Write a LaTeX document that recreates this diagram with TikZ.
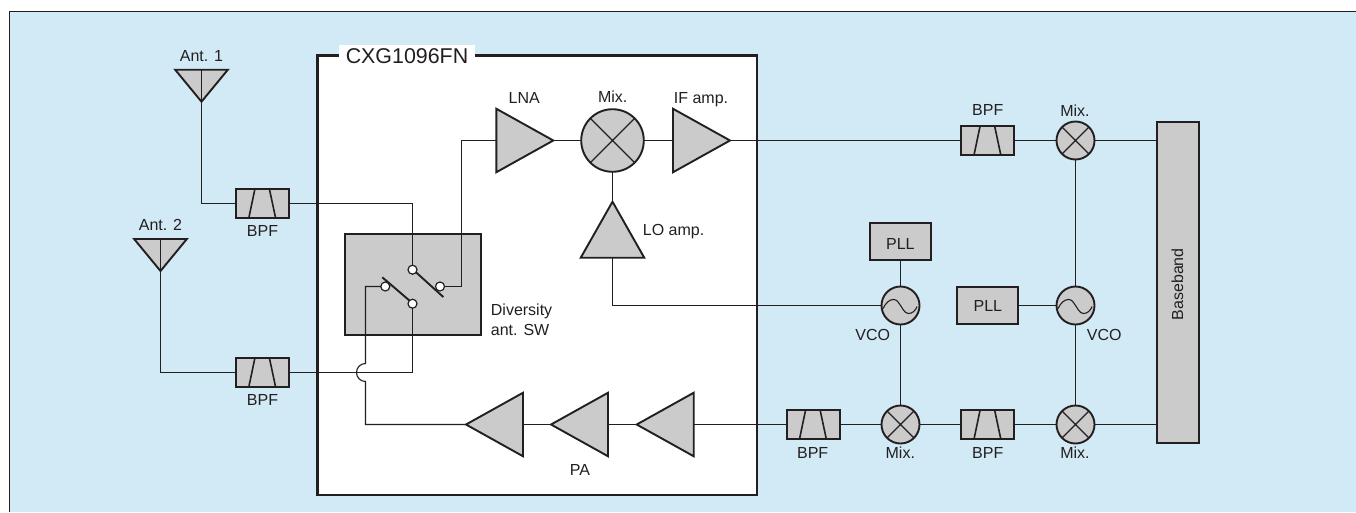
\documentclass[tikz,border=0pt]{standalone}
\usepackage{fontspec}
\setmainfont{Liberation Sans}
\usetikzlibrary{shapes.geometric}
\definecolor{ink}{HTML}{231F20}
\definecolor{bgblue}{HTML}{D2EAF6}
\definecolor{partgray}{HTML}{CBCBCB}
\tikzset{
  wire/.style={draw=ink,line width=1.1pt},
  lab/.style={anchor=base,inner sep=0pt,text=ink,font=\fontsize{16}{20}\selectfont},
  labl/.style={lab,anchor=base west},
  part/.style={draw=ink,fill=partgray,line width=1.9pt,inner sep=0pt,outer sep=0pt},
  amp/.style={part,isosceles triangle,isosceles triangle stretches,minimum width=63.5pt,minimum height=57pt,anchor=apex},
  ant/.style={part,isosceles triangle,isosceles triangle stretches,minimum width=52.7pt,minimum height=32pt,anchor=apex,shape border rotate=270},
  bpf/.style={part,rectangle,minimum width=53pt,minimum height=29.5pt,
    path picture={\draw[line width=1.6pt,draw=ink,shift={(path picture bounding box.center)}]
      (-7.5,-15)--(-13.8,15) (6.8,-15)--(13.2,15);}},
  mixer/.style={part,circle,minimum size=#1,
    path picture={\draw[line width=1.1pt,draw=ink]
      (path picture bounding box.north west)--(path picture bounding box.south east)
      (path picture bounding box.north east)--(path picture bounding box.south west);}},
  vco/.style={part,circle,minimum size=38pt,
    path picture={\draw[line width=1.1pt,draw=ink,shift={(path picture bounding box.center)}]
      (-17.5,3) .. controls (-14.5,-3) and (-11,-6) .. (-7,-6) .. controls (-3,-6) and (-2,-2.5) .. (0,0)
      .. controls (2,2.5) and (4,8) .. (8,8) .. controls (12,8) and (15,5) .. (16.5,1);}},
  pll/.style={part,rectangle,minimum width=61pt,minimum height=36.5pt},
  pole/.style={circle,draw=ink,fill=white,line width=1.2pt,minimum size=9pt,inner sep=0pt,outer sep=0pt},
  blade/.style={draw=ink,line width=1.9pt}
}
\begin{document}
\begin{tikzpicture}[x=1pt,y=-1pt]
\useasboundingbox (0,0) rectangle (1356,512);
\fill[white] (0,0) rectangle (1356,512);
\fill[bgblue] (9.5,11.5) rectangle (1356,512);
\draw[draw=ink,line width=1.3pt] (9.5,512) -- (9.5,11.5) -- (1356,11.5);

% chip
\node[fill=white,inner sep=0pt,outer sep=0pt,minimum width=439.7pt,minimum height=439.7pt,rectangle] (chip) at (537.15,275.15) {};
\node[lab,fill=white,minimum width=136pt,text height=18.3pt,text depth=2pt,font=\fontsize{21.4}{24}\selectfont] (title) at (407,63.3) {CXG1096FN};
\draw[draw=ink,line width=2.6pt] (title.west |- chip.north) -- (chip.north west) -- (chip.south west) -- (chip.south east) -- (chip.north east) -- (title.east |- chip.north);

% parts
\node[ant] (a1) at (201.5,101.7) {};
\node[ant] (a2) at (160.5,271) {};
\node[bpf] (f1) at (262.5,203.5) {};
\node[bpf] (f2) at (262.5,372.5) {};
\node[bpf] (f3) at (987.7,140.5) {};
\node[bpf] (f4) at (813.2,424.5) {};
\node[bpf] (f5) at (987.7,424.5) {};
\node[part,rectangle,minimum width=135.7pt,minimum height=101.3pt] (swbox) at (412.85,284.65) {};
\node[amp] (lna) at (553.3,140.5) {};
\node[amp] (ifa) at (730,140.5) {};
\node[mixer=62.6pt] (m0) at (612.5,140.5) {};
\node[amp,minimum width=63.5pt,minimum height=56pt,shape border rotate=90] (lo) at (612.5,201.7) {};
\node[amp,shape border rotate=180] (pa1) at (466,424.5) {};
\node[amp,shape border rotate=180] (pa2) at (551,424.5) {};
\node[amp,shape border rotate=180] (pa3) at (636.7,424.5) {};
\node[mixer=38pt] (m1) at (1075.5,140.5) {};
\node[mixer=38pt] (m2) at (900.5,424.5) {};
\node[mixer=38pt] (m3) at (1075.5,424.5) {};
\node[vco] (v1) at (900.5,305.5) {};
\node[vco] (v2) at (1075.5,305.5) {};
\node[pll] (p1) at (900.5,241.6) {};
\node[pll] (p2) at (987.8,305.5) {};
\node[part,rectangle,minimum width=42pt,minimum height=320.7pt] (bb) at (1177.7,282.35) {};

% switch
\coordinate (b1s) at (416,272.3);
\coordinate (b1e) at (443.3,297);
\coordinate (b2s) at (382.3,277.3);
\coordinate (b2e) at (410,301);
\draw[blade] (b1s) -- (b1e);
\draw[blade] (b2s) -- (b2e);
\node[pole] (sa) at (412.5,269.7) {};
\node[pole] (sb) at (440,286.5) {};
\node[pole] (sc) at (385.3,286.5) {};
\node[pole] (sd) at (412.5,303.7) {};

% connector bend and jump coordinates
\coordinate (c1) at (461.5,140.5);
\coordinate (jt) at (365.5,363.5);
\coordinate (jb) at (365.5,381.5);
\coordinate (jl) at (356.5,372.5);
\coordinate (c2) at (365.5,424.5);

% connectors
\draw[wire] (a1.lower side) -- (a1.apex) |- (f1.west);
\draw[wire] (a2.lower side) -- (a2.apex) |- (f2.west);
\draw[wire] (f1.east) -| (sa.north);
\draw[wire] (f2.east) -| (sd.south);
\draw[wire] (sb.east) -- (sb.east -| c1) -- (c1) -- (lna.lower side);
\draw[wire] (sc.west) -- (sc.west -| jt) -- (jt)
  .. controls (360.5,363.5) and (356.5,367.5) .. (jl)
  .. controls (356.5,377.5) and (360.5,381.5) .. (jb) -- (c2) -- (pa1.apex);
\draw[wire] (lna.apex) -- (m0.west);
\draw[wire] (m0.east) -- (ifa.lower side);
\draw[wire] (ifa.apex) -- (f3.west);
\draw[wire] (f3.east) -- (m1.west);
\draw[wire] (m1.east) -- (m1.east -| bb.west);
\draw[wire] (m0.south) -- (lo.apex);
\draw[wire] (lo.lower side) |- (v1.west);
\draw[wire] (p1.south) -- (v1.north);
\draw[wire] (v1.south) -- (m2.north);
\draw[wire] (p2.east) -- (p2.east -| v2.west);
\draw[wire] (m1.south) -- (v2.north);
\draw[wire] (v2.south) -- (m3.north);
\draw[wire] (pa1.lower side) -- (pa2.apex);
\draw[wire] (pa2.lower side) -- (pa3.apex);
\draw[wire] (pa3.lower side) -- (f4.west);
\draw[wire] (f4.east) -- (m2.west);
\draw[wire] (m2.east) -- (f5.west);
\draw[wire] (f5.east) -- (m3.west);
\draw[wire] (m3.east) -- (m3.east -| bb.west);

% labels
\node[lab] (t1) at (201.5,61) {Ant. 1};
\node[lab] (t2) at (160.5,230) {Ant. 2};
\node[lab] (t3) at (262.5,236) {BPF};
\node[lab] (t4) at (262.5,405) {BPF};
\node[lab] (t5) at (524.3,103) {LNA};
\node[lab] (t6) at (612.7,102.7) {Mix.};
\node[lab] (t7) at (701,103) {IF amp.};
\node[labl] (t8) at (642.7,235.7) {LO amp.};
\node[labl] (t9) at (490.7,315) {Diversity};
\node[labl] (t10) at (490.7,335) {ant. SW};
\node[lab] (t11) at (580,475) {PA};
\node[lab] (t12) at (987.7,115) {BPF};
\node[lab] (t13) at (1075,116.7) {Mix.};
\node[lab] (t14) at (900.3,249) {PLL};
\node[lab] (t15) at (987.8,311) {PLL};
\node[lab] (t16) at (872.7,340) {VCO};
\node[lab] (t17) at (1104.3,340) {VCO};
\node[lab,rotate=90] (t18) at (1183,284.3) {Baseband};
\node[lab] (t19) at (812.7,458) {BPF};
\node[lab] (t20) at (900.3,458) {Mix.};
\node[lab] (t21) at (987.7,458) {BPF};
\node[lab] (t22) at (1075,458) {Mix.};
\end{tikzpicture}
\end{document}
